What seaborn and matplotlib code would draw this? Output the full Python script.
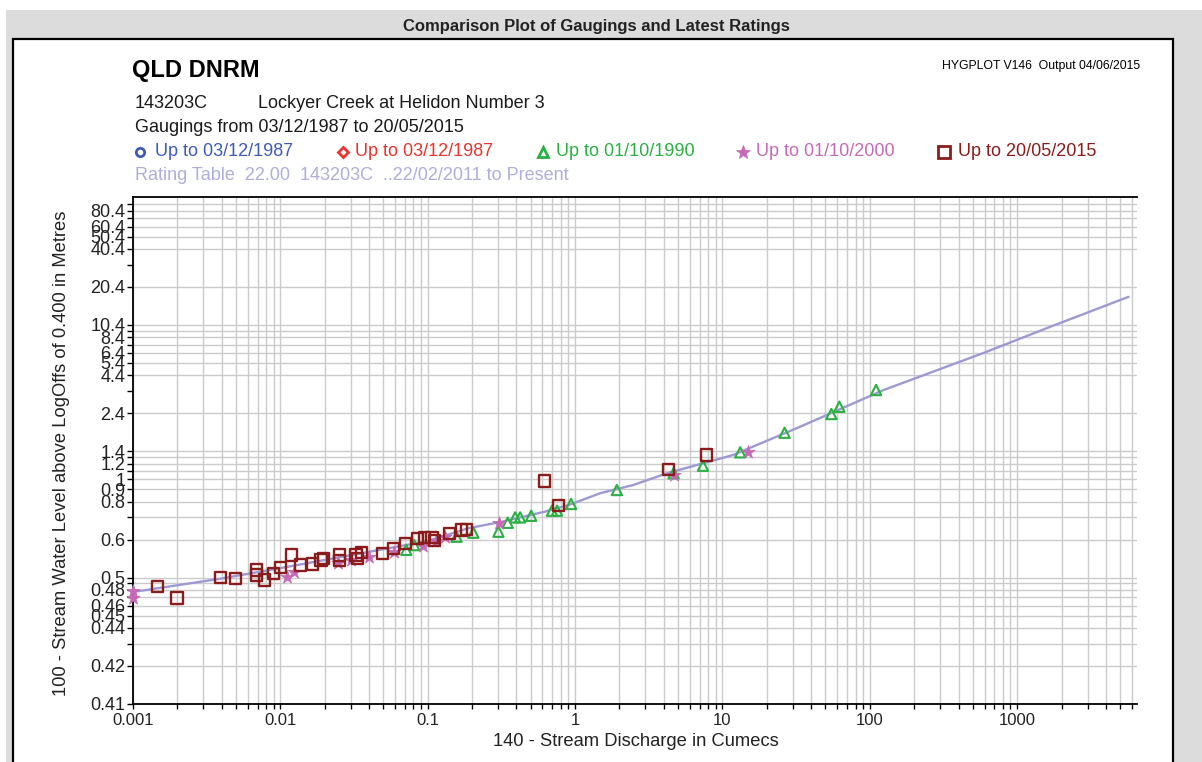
import numpy as np
import matplotlib
matplotlib.use("Agg")
import matplotlib.pyplot as plt
from matplotlib.patches import Rectangle
from matplotlib.lines import Line2D
import seaborn as sns

sns.set_theme(style="white")
plt.rcParams['font.family'] = ['Liberation Sans', 'DejaVu Sans']

# ---------------- data ----------------
rating_q = [0.001, 0.0039, 0.01, 0.1, 0.188, 0.318, 0.624, 0.906, 1.48, 2.48, 4.2,
            11.8, 33.7, 123.5, 590, 1680, 5690]
rating_h = [0.477, 0.498, 0.519, 0.595, 0.646, 0.677, 0.733, 0.776, 0.866, 0.941, 1.07,
            1.335, 1.966, 3.45, 6.4, 10.08, 17.1]

# Up to 01/10/1990 (triangles)
g1990_q = [0.0715, 0.081, 0.1568, 0.2038, 0.3018, 0.349, 0.3916, 0.4236, 0.5035, 0.697,
           0.754, 0.939, 1.92, 4.66, 7.37, 13.2, 26.4, 54.8, 62.1, 110.2]
g1990_h = [0.566, 0.581, 0.611, 0.627, 0.631, 0.672, 0.700, 0.700, 0.709, 0.739,
           0.739, 0.783, 0.894, 1.070, 1.169, 1.382, 1.803, 2.373, 2.653, 3.455]

# Up to 01/10/2000 (stars)
g2000_q = [0.001, 0.001, 0.01116, 0.01233, 0.0245, 0.0302, 0.040, 0.0593, 0.093, 0.1146,
           0.1305, 0.303, 4.66, 14.8]
g2000_h = [0.478, 0.469, 0.502, 0.511, 0.531, 0.538, 0.546, 0.560, 0.578, 0.596,
           0.609, 0.671, 1.049, 1.393]

# Up to 20/05/2015 (squares)
g2015_q = [0.00147, 0.00199, 0.00392, 0.00496, 0.0069, 0.0069, 0.00782, 0.00896, 0.0100,
           0.01195, 0.01376, 0.01653, 0.01884, 0.01965, 0.0251, 0.0251, 0.0326, 0.0335,
           0.0357, 0.0491, 0.0586, 0.0704, 0.085, 0.0953, 0.107, 0.1116, 0.141, 0.1696,
           0.1835, 0.617, 0.771, 4.31, 7.76]
g2015_h = [0.485, 0.469, 0.500, 0.499, 0.515, 0.505, 0.496, 0.508, 0.521,
           0.551, 0.526, 0.528, 0.538, 0.542, 0.551, 0.536, 0.551, 0.542,
           0.558, 0.556, 0.571, 0.587, 0.605, 0.609, 0.609, 0.596, 0.625, 0.638,
           0.641, 0.982, 0.771, 1.120, 1.335]

x_ticks = [0.001, 0.01, 0.1, 1, 10, 100, 1000]
x_ticklabels = ["0.001", "0.01", "0.1", "1", "10", "100", "1000"]
y_ticks = [0.41, 0.42, 0.44, 0.45, 0.46, 0.48, 0.5, 0.6, 0.8, 0.9, 1.0, 1.2,
           1.4, 2.4, 4.4, 5.4, 6.4, 8.4, 10.4, 20.4, 40.4, 50.4, 60.4, 80.4]
y_ticklabels = ["0.41", "0.42", "0.44", "0.45", "0.46", "0.48", "0.5", "0.6", "0.8", "0.9",
                "1", "1.2", "1.4", "2.4", "4.4", "5.4", "6.4", "8.4", "10.4", "20.4",
                "40.4", "50.4", "60.4", "80.4"]
y_minor = [0.43, 0.47, 0.49, 0.7, 1.1, 1.3, 3.4, 7.4, 9.4, 30.4, 70.4, 90.4]
y_minor_nogrid = [3.4, 30.4]

legend_labels = ["Up to 03/12/1987", "Up to 03/12/1987", "Up to 01/10/1990",
                 "Up to 01/10/2000", "Up to 20/05/2015"]
legend_colors = ["#3f5bb8", "#e8342c", "#2bb043", "#c46ab6", "#8b1c1c"]
legend_markers = ["o", "D", "^", "*", "s"]

W, H = 1202, 762
fig = plt.figure(figsize=(W / 100, H / 100), dpi=100)
fig.patch.set_facecolor("white")

def fx(px):
    return px / W

def fy(py):
    return 1 - py / H

# page background
fig.add_artist(Rectangle((fx(6), 0), fx(W - 6), 1 - 10 / H, transform=fig.transFigure,
                         facecolor="#dcdcdc", edgecolor="none", zorder=-20))
fig.add_artist(Rectangle((fx(13), -0.02), fx(1173 - 13), (H - 39) / H + 0.02,
                         transform=fig.transFigure, facecolor="white",
                         edgecolor="black", linewidth=1.6, zorder=-19))

ax = fig.add_axes([fx(133), fy(704), fx(1137 - 133), (704 - 197) / H])
ax.set_facecolor("white")

line_col = "#9d99d4"
sns.lineplot(x=rating_q, y=rating_h, ax=ax, color=line_col, linewidth=1.7,
             sort=False, estimator=None, zorder=3)

sns.scatterplot(x=g1990_q, y=g1990_h, ax=ax, marker="^", s=55, color=legend_colors[2],
                facecolor="none", edgecolor=legend_colors[2], linewidth=1.5,
                zorder=4, clip_on=False)
sns.scatterplot(x=g2000_q, y=g2000_h, ax=ax, marker="*", s=100, color=legend_colors[3],
                edgecolor=legend_colors[3], linewidth=0.5, zorder=5, clip_on=False)
sns.scatterplot(x=g2015_q, y=g2015_h, ax=ax, marker="s", s=66, color=legend_colors[4],
                facecolor="none", edgecolor=legend_colors[4], linewidth=1.7,
                zorder=6, clip_on=False)

ax.set_xscale("log")
ax.set_yscale("function", functions=(lambda h: np.log10(np.maximum(np.asarray(h) - 0.4, 1e-9)),
                                     lambda v: 10 ** np.asarray(v) + 0.4))
ax.set_xlim(0.001, 6500)
ax.set_ylim(0.41, 103.4)

ax.set_xticks(x_ticks)
ax.set_xticklabels(x_ticklabels)
ax.xaxis.set_minor_locator(matplotlib.ticker.LogLocator(base=10, subs=np.arange(2, 10)))
ax.xaxis.set_minor_formatter(matplotlib.ticker.NullFormatter())
ax.set_yticks(y_ticks)
ax.set_yticklabels(y_ticklabels)
ax.set_yticks(y_minor, minor=True)
ax.yaxis.set_minor_formatter(matplotlib.ticker.NullFormatter())

ax.grid(True, which="both", color="#cbcbcb", linewidth=1.0)
ax.set_axisbelow(True)
fig.canvas.draw()
for loc, t in zip(ax.yaxis.get_minorticklocs(), ax.yaxis.get_minor_ticks()):
    if any(abs(loc - v) < 1e-6 for v in y_minor_nogrid):
        t.gridline.set_visible(False)

ax.tick_params(axis="both", which="both", direction="out", color="black",
               width=1.0, bottom=True, left=True)
ax.tick_params(axis="y", which="both", length=4.5, pad=1, labelsize=13, labelcolor="#222222")
ax.tick_params(axis="x", which="both", length=3.5, pad=3, labelsize=12, labelcolor="#222222")

for side in ["left", "bottom", "top"]:
    ax.spines[side].set_visible(True)
    ax.spines[side].set_color("black")
    ax.spines[side].set_linewidth(1.3)
ax.spines["right"].set_visible(False)
ax.set_xlabel("")
ax.set_ylabel("")

# ---------------- texts ----------------
fig.text(fx(596), fy(26), "Comparison Plot of Gaugings and Latest Ratings",
         ha="center", va="center", fontsize=12, fontweight="bold", color="#222222")
fig.text(fx(132), fy(70), "QLD DNRM", ha="left", va="center", fontsize=17,
         fontweight="bold", color="black")
fig.text(fx(1140), fy(66), "HYGPLOT V146  Output 04/06/2015", ha="right", va="center",
         fontsize=8.8, color="black")
fig.text(fx(135), fy(103), "143203C", ha="left", va="center", fontsize=13, color="#1a1a1a")
fig.text(fx(258), fy(103), "Lockyer Creek at Helidon Number 3", ha="left", va="center",
         fontsize=13, color="#1a1a1a")
fig.text(fx(135), fy(128), "Gaugings from 03/12/1987 to 20/05/2015", ha="left",
         va="center", fontsize=13, color="#1a1a1a")

marker_x = [140, 343, 543, 743, 944]
text_x = [155, 355, 556, 756, 958]
marker_sizes = [6, 5.5, 6.5, 10, 8]
for i in range(5):
    filled = legend_markers[i] == "*"
    fig.add_artist(Line2D([fx(marker_x[i])], [fy(152)], transform=fig.transFigure,
                          marker=legend_markers[i], markersize=marker_sizes[i],
                          markerfacecolor=legend_colors[i] if filled else "none",
                          markeredgecolor=legend_colors[i], markeredgewidth=2 if not filled else 0.5,
                          linestyle="none"))
    fig.text(fx(text_x[i]), fy(152), legend_labels[i], ha="left", va="center",
             fontsize=13, color=legend_colors[i])

fig.text(fx(135), fy(176), "Rating Table  22.00  143203C  ..22/02/2011 to Present",
         ha="left", va="center", fontsize=13, color="#aeaedc")

fig.text(fx(62), fy(453), "100 - Stream Water Level above LogOffs of 0.400 in Metres",
         ha="center", va="center", rotation=90, fontsize=13.2, color="#222222")
fig.text(fx(636), fy(741), "140 - Stream Discharge in Cumecs", ha="center", va="center",
         fontsize=13.2, color="#222222")

fig.savefig("out.png", dpi=100, facecolor=fig.get_facecolor())
